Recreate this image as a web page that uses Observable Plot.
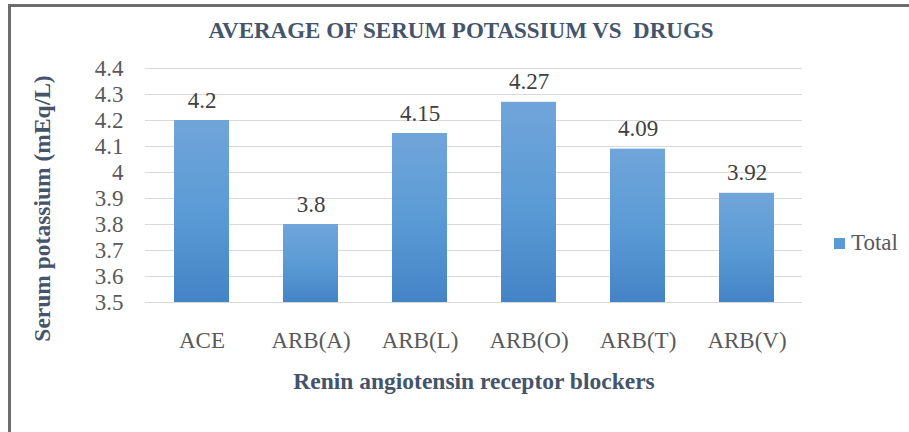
<!DOCTYPE html>
<html><head><meta charset="utf-8">
<script src="https://cdn.jsdelivr.net/npm/d3@7"></script>
<script src="https://cdn.jsdelivr.net/npm/@observablehq/plot@0.6"></script>
<style>
html,body{margin:0;padding:0;background:#fff;overflow:hidden;}
#wrap{position:relative;width:909px;height:432px;overflow:hidden;background:#fff;}
#frame{position:absolute;left:8px;top:4px;width:1200px;height:1200px;border:3px solid #6d6d6d;box-sizing:border-box;pointer-events:none;z-index:2}
#legend{position:absolute;left:834px;top:230px;font-size:23px;font-family:"Liberation Serif","Times New Roman",Times,"DejaVu Serif",serif;color:#595959;display:flex;align-items:center;z-index:3}
#legend .sw{display:inline-block;width:11px;height:11px;background:#5b9bd5;margin-right:6px}
#chart{position:absolute;left:0;top:0}
svg text{white-space:pre;}
</style></head>
<body><div id="wrap"><div id="chart"></div><div id="frame"></div><div id="legend"><span class="sw"></span><span id="legtxt"></span></div></div>
<script>
const categories = ["ACE","ARB(A)","ARB(L)","ARB(O)","ARB(T)","ARB(V)"];
const values = [4.2,3.8,4.15,4.27,4.09,3.92];
const yTicks = [3.5,3.6,3.7,3.8,3.9,4.0,4.1,4.2,4.3,4.4];
const valueLabels = ["4.2","3.8","4.15","4.27","4.09","3.92"];
const title = "AVERAGE OF SERUM POTASSIUM VS  DRUGS";
const xTitle = "Renin angiotensin receptor blockers";
const yTitle = "Serum potassium (mEq/L)";
const seriesName = "Total";

const data = categories.map((c,i)=>({drug:c, value:values[i], label:valueLabels[i]}));
document.getElementById("legtxt").textContent = seriesName;

const font = '"Liberation Serif","Times New Roman",Times,"DejaVu Serif",serif';
const gradient = () => {
  const ns = "http://www.w3.org/2000/svg";
  const defs = document.createElementNS(ns,"defs");
  defs.innerHTML = `<linearGradient id="barGrad" x1="0" y1="0" x2="0" y2="1">
    <stop offset="0" stop-color="#70a5da"/>
    <stop offset="0.5" stop-color="#5b9bd5"/>
    <stop offset="1" stop-color="#4484c6"/>
  </linearGradient>`;
  return defs;
};

const chart = Plot.plot({
  width: 909,
  height: 432,
  marginLeft: 145,
  marginRight: 107,
  marginTop: 68,
  marginBottom: 130,
  style: {fontFamily: font, fontSize: "23px", background: "transparent"},
  x: {domain: categories, paddingInner: 0.5, paddingOuter: 0.25, label: null},
  y: {domain: [3.5, 4.4], label: null},
  marks: [
    gradient,
    Plot.gridY(yTicks, {stroke: "#d9d9d9", strokeOpacity: 1, strokeWidth: 1}),
    Plot.axisY(yTicks, {tickSize: 0, tickPadding: 22, label: null, fontSize: 23, fill: "#595959",
      tickFormat: d => String(+d.toFixed(1))}),
    Plot.axisX({tickSize: 0, tickPadding: 29, label: null, fontSize: 23, fill: "#595959"}),
    Plot.barY(data, {x: "drug", y1: () => 3.5, y2: "value", fill: "url(#barGrad)"}),
    Plot.text(data, {x: "drug", y: "value", text: "label", lineAnchor: "bottom", dy: -13, fontSize: 23, fill: "#404040"}),
    Plot.text([title], {frameAnchor: "top", lineAnchor: "bottom", dy: -31, dx: -13, fontSize: 23, fontWeight: "bold", fill: "#44546a"}),
    Plot.text([xTitle], {frameAnchor: "bottom", lineAnchor: "bottom", dy: 86, fontSize: 23.5, fontWeight: "bold", fill: "#44546a"}),
    Plot.text([yTitle], {frameAnchor: "left", textAnchor: "middle", rotate: -90, dx: -103, dy: 23, fontSize: 23.5, fontWeight: "bold", fill: "#44546a"})
  ]
});
document.getElementById("chart").appendChild(chart);
</script>
</body></html>
